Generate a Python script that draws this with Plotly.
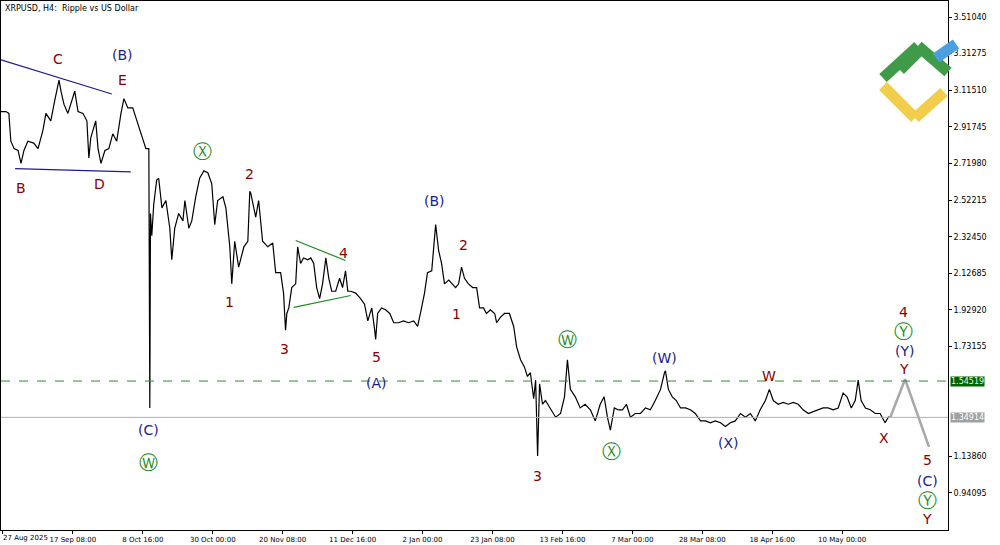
import plotly.graph_objects as go

# time in days since 27 Aug 2025 00:00, price XRPUSD H4
days = [-0.6,0.9,1.8,2.4,3.4,4.6,5.5,6.4,7.6,9.4,10.7,12.2,13.1,14.6,15.8,17.1,17.7,18.6,19.8,20.7,21.9,22.9,24.4,25.6,26.2,26.8,28.3,29.0,29.9,31.1,32.3,33.5,34.7,36.0,36.9,38.1,39.6,40.5,42.1,43.6,44.5,44.8,45.0,45.4,46.0,46.9,47.5,48.5,49.7,50.9,51.5,52.4,53.6,54.9,55.5,56.7,57.6,58.8,60.0,61.3,62.5,63.7,64.6,65.5,67.1,68.0,69.2,69.8,70.7,71.9,73.5,74.7,75.3,75.6,77.1,78.0,79.2,80.8,82.3,83.2,84.7,85.6,86.2,86.6,87.2,88.1,89.3,89.9,90.8,91.7,93.0,93.9,94.8,95.7,96.6,97.5,98.5,99.4,100.3,101.5,102.7,103.6,104.5,105.2,106.1,107.6,109.1,110.3,111.3,112.5,113.4,113.7,114.3,115.5,116.7,118.0,119.2,120.7,122.2,123.7,125.3,126.5,127.7,128.6,129.5,130.8,132.0,132.9,133.8,134.7,136.0,137.2,138.1,139.0,139.9,140.8,142.0,143.3,144.5,145.4,146.6,147.5,148.7,150.0,150.6,151.8,153.0,154.5,155.8,156.7,157.9,159.1,160.0,160.9,161.9,162.5,163.1,163.7,164.6,165.5,167.0,168.6,170.1,171.3,172.2,173.1,174.6,176.1,177.6,179.2,180.7,182.2,183.4,184.4,185.3,186.5,187.7,189.0,190.2,191.4,192.9,194.5,196.0,197.5,199.0,200.6,201.8,202.1,203.0,204.2,205.4,206.7,208.2,209.7,211.2,212.8,214.3,215.8,217.3,218.9,220.4,221.9,223.4,225.0,226.5,228.0,229.5,231.0,232.6,233.8,235.0,236.5,238.0,239.6,241.1,242.6,244.1,245.7,247.2,248.7,250.2,251.7,253.3,254.8,256.3,257.5,258.8,260.0,260.9,261.8,263.1,264.6,266.1,267.6,269.1,270.1,270.7]
price = [3.00,3.00,2.99,2.84,2.80,2.79,2.72,2.79,2.84,2.83,2.80,2.90,2.99,2.95,3.06,3.17,3.11,3.04,2.99,3.04,3.11,3.00,2.99,2.95,2.75,2.86,2.95,2.80,2.72,2.79,2.80,2.88,2.84,2.99,3.07,3.02,3.02,2.97,2.88,2.80,2.80,1.40,2.45,2.33,2.50,2.63,2.64,2.48,2.52,2.37,2.20,2.37,2.45,2.41,2.52,2.37,2.41,2.54,2.64,2.68,2.67,2.61,2.39,2.52,2.54,2.48,2.27,2.07,2.30,2.16,2.27,2.30,2.57,2.56,2.43,2.52,2.30,2.27,2.29,2.13,2.13,2.02,1.82,1.91,1.94,2.05,2.07,2.27,2.18,2.21,2.20,2.21,2.18,2.05,1.99,2.07,2.21,2.10,2.03,2.03,2.10,2.05,2.14,2.03,2.03,2.02,1.99,1.96,1.87,1.94,1.82,1.77,1.91,1.94,1.93,1.91,1.86,1.86,1.87,1.86,1.87,1.84,1.94,2.02,2.13,2.14,2.39,2.25,2.18,2.07,2.09,2.07,2.05,2.07,2.16,2.10,2.07,2.05,2.05,1.94,1.94,1.91,1.93,1.91,1.86,1.89,1.91,1.91,1.84,1.73,1.66,1.62,1.57,1.59,1.45,1.55,1.14,1.53,1.42,1.44,1.40,1.35,1.37,1.46,1.66,1.50,1.46,1.40,1.42,1.39,1.33,1.42,1.46,1.35,1.28,1.40,1.39,1.39,1.42,1.35,1.37,1.37,1.40,1.39,1.44,1.50,1.59,1.60,1.50,1.46,1.44,1.40,1.40,1.39,1.37,1.33,1.33,1.32,1.33,1.32,1.30,1.32,1.33,1.37,1.35,1.37,1.33,1.39,1.44,1.50,1.44,1.42,1.43,1.42,1.43,1.42,1.39,1.37,1.38,1.39,1.40,1.40,1.39,1.40,1.48,1.46,1.40,1.44,1.55,1.44,1.40,1.39,1.37,1.37,1.32,1.35,1.35]
proj_days = [270.7, 275.2, 282.5]
proj_price = [1.35, 1.555, 1.19]

tick_days = [0, 21.33, 42.67, 64, 85.33, 106.67, 128, 149.33, 170.67, 192, 213.33, 234.67, 256]
tick_text = ["27 Aug 2025","17 Sep 08:00","8 Oct 16:00","30 Oct 00:00","20 Nov 08:00","11 Dec 16:00","2 Jan 00:00","23 Jan 08:00","13 Feb 16:00","7 Mar 00:00","28 Mar 08:00","18 Apr 16:00","10 May 00:00"]
ytick = [3.51040,3.31275,3.11510,2.91745,2.71980,2.52215,2.32450,2.12685,1.92920,1.73155,1.13860,0.94095]
level_green = 1.54519
level_grey = 1.34914

RED = "#8b0000"; NAVY = "#1c1c8c"; GREEN = "#1e8c1e"
labels = [("C",58,59,RED),("(B)",122,55,NAVY),("E",122,80,RED),("B",21,188,RED),("D",99,184,RED),
          ("Ⓧ",202,151,GREEN),("2",249,174,RED),("1",229,302,RED),("3",284,349,RED),("4",343,253,RED),
          ("5",376,357,RED),("(A)",376,383,NAVY),("(B)",434,201,NAVY),("2",463,245,RED),("1",456,314,RED),
          ("3",537,476,RED),("Ⓦ",567,339,GREEN),("Ⓧ",611,451,GREEN),("(W)",664,358,NAVY),("(X)",728,443,NAVY),
          ("W",769,376,RED),("X",884,438,RED),("4",903,312,RED),("Ⓨ",903,331,GREEN),("(Y)",904,351,NAVY),
          ("Y",904,369,RED),("5",927,460,RED),("(C)",927,481,NAVY),("Ⓨ",927,500,GREEN),("Y",927,519,RED),
          ("(C)",148,430,NAVY),("Ⓦ",148,462,GREEN)]

fig = go.Figure()
fig.add_trace(go.Scatter(x=days, y=price, mode="lines", line=dict(color="black", width=1.2), hoverinfo="skip"))
fig.add_trace(go.Scatter(x=proj_days, y=proj_price, mode="lines", line=dict(color="#a8a8a8", width=2.5)))
for xs, ys, c in [([-0.6,33.2],[3.279,3.095],NAVY),([3.7,39.0],[2.692,2.675],NAVY),
                  ([89.3,104.5],[2.304,2.196],GREEN),([88.7,106.1],[1.943,2.007],GREEN)]:
    fig.add_trace(go.Scatter(x=xs, y=ys, mode="lines", line=dict(color=c, width=1.2)))
fig.add_hline(y=level_green, line=dict(color="#2e8b2e", width=1, dash="dash"))
fig.add_hline(y=level_grey, line=dict(color="#b0b0b0", width=1))

W, H = 1000, 545
L, R, T, B = 1, 52, 1, 15
pw, ph = W - L - R, H - T - B
def px(x): return (x - L) / pw
def py(y): return (H - B - y) / ph

for t, x, y, c in labels:
    circ = t in "ⓌⓍⓎ"
    fig.add_annotation(x=px(x), y=py(y), xref="paper", yref="paper", xanchor="center", yanchor="middle",
                       text=t, showarrow=False,
                       font=dict(family="DejaVu Sans", size=19 if circ else 14, color=c))
for v, bg, fc in [(level_green, "#006400", "#e0ffe0"), (level_grey, "#a0a0a0", "white")]:
    fig.add_annotation(x=1, y=v, xref="paper", yref="y", xanchor="left", yanchor="middle", text=f"{v:.5f}",
                       showarrow=False, bgcolor=bg, font=dict(family="DejaVu Sans", size=8, color=fc),
                       borderpad=0, xshift=2)
fig.add_annotation(x=px(3), y=py(8), xref="paper", yref="paper", xanchor="left", yanchor="middle",
                   text="XRPUSD, H4:  Ripple vs US Dollar",
                   showarrow=False, font=dict(family="DejaVu Sans", size=8, color="black"))
fig.add_annotation(x=0, y=0, xref="paper", yref="paper", xanchor="left", yanchor="top", yshift=-2,
                   text=tick_text[0], showarrow=False, font=dict(family="DejaVu Sans", size=7, color="black"))
for (x0,y0,x1,y1,c) in [(883,78,918,46,"#3f9b47"),(918,46,948,72,"#3f9b47"),(900,70,918,52,"#3f9b47"),
                         (936,58,956,44,"#4a9fdc"),(883,86,915,118,"#f2cd4c"),(915,118,944,92,"#f2cd4c")]:
    fig.add_shape(type="line", xref="paper", yref="paper", x0=px(x0), y0=py(y0), x1=px(x1), y1=py(y1),
                  line=dict(color=c, width=11))

fig.update_layout(width=W, height=H, margin=dict(l=L, r=R, t=T, b=B), showlegend=False,
                  plot_bgcolor="white", paper_bgcolor="white")
fig.update_xaxes(range=[-0.6, 288.3], tickvals=tick_days, ticktext=[""] + tick_text[1:], showgrid=False, zeroline=False,
                 ticks="outside", ticklen=3, tickcolor="black", showline=True, linecolor="black", mirror=True,
                 tickfont=dict(family="DejaVu Sans", size=7, color="black"))
fig.update_yaxes(range=[0.741, 3.597], side="right", tickvals=ytick, ticktext=[f"{v:.5f}" for v in ytick],
                 showgrid=False, zeroline=False, ticks="outside", ticklen=3, tickcolor="black",
                 showline=True, linecolor="black", mirror=True, tickfont=dict(family="DejaVu Sans", size=8, color="black"))
fig.write_html("out.html", config={"displayModeBar": False},
               post_script="document.body.style.margin='0';document.body.style.overflow='hidden';")
